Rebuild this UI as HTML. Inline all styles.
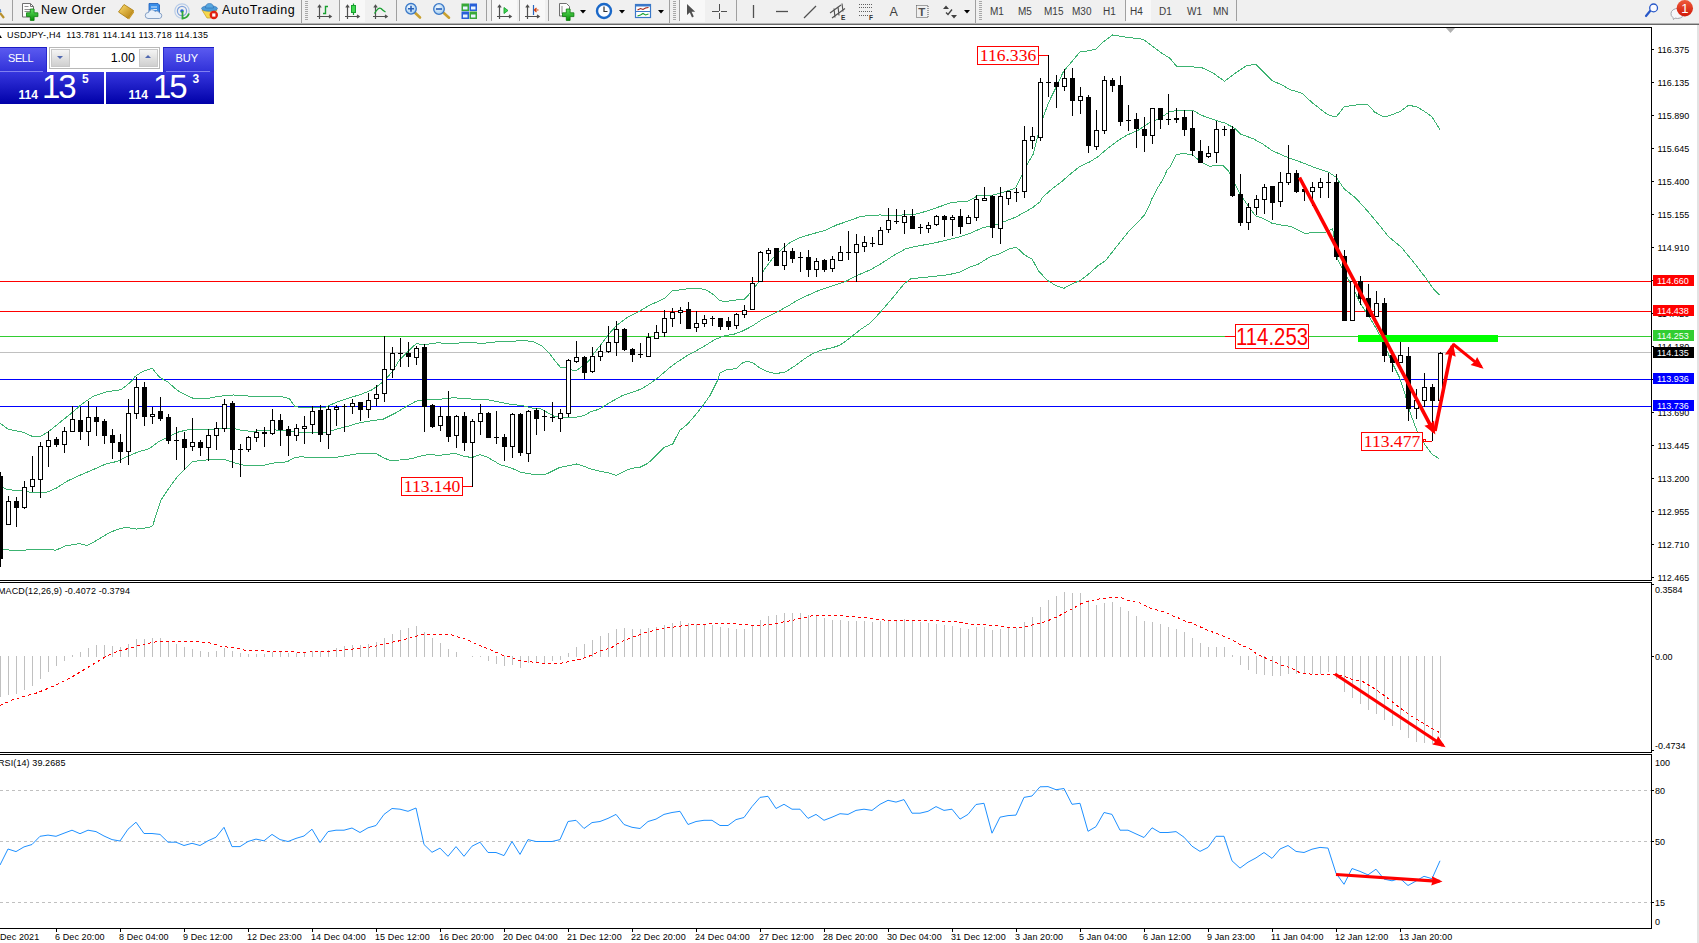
<!DOCTYPE html>
<html><head><meta charset="utf-8"><title>USDJPY H4</title>
<style>
html,body{margin:0;padding:0;background:#fff;}
body{width:1699px;height:943px;overflow:hidden;position:relative;font-family:"Liberation Sans",sans-serif;}
#tb{position:absolute;left:0;top:0;width:1699px;height:23px;background:#f0f0f0;}
#tbl1{position:absolute;left:0;top:23px;width:1699px;height:1px;background:#b4b4b4;}
#tbl2{position:absolute;left:0;top:24px;width:1699px;height:1px;background:#696969;}
#rstrip{position:absolute;left:1697px;top:25px;width:2px;height:918px;background:#e3e3e3;}
.sep{position:absolute;top:0;width:1px;height:21px;background:#a0a0a0;}
.tf{position:absolute;top:5.5px;font-size:10px;color:#3c3c3c;line-height:11px;white-space:nowrap;}
.tbt{position:absolute;top:2px;font-size:12.5px;color:#000;line-height:16px;letter-spacing:.5px;white-space:nowrap;}
.hl{position:absolute;top:0;height:22px;background:#f8f8f8;}
.ax{position:absolute;left:1657.5px;font-size:9px;line-height:11px;color:#000;white-space:nowrap;}
.axb{position:absolute;left:1653px;width:41px;height:11px;font-size:9px;line-height:12px;color:#fff;white-space:nowrap;text-indent:4px;}
.tk{position:absolute;left:1652px;width:2px;height:1px;background:#000;}
.tl{position:absolute;top:932px;font-size:9px;line-height:11px;letter-spacing:.1px;color:#000;white-space:nowrap;}
.tt{position:absolute;top:928px;width:1px;height:4px;background:#000;}
.lbl{position:absolute;border:1px solid #f00;color:#f00;font-family:"Liberation Serif",serif;font-size:17.6px;line-height:17px;text-align:center;box-sizing:border-box;white-space:nowrap;background:#fff;}
</style></head><body>
<!-- toolbar -->
<div id="tb"></div><div id="tbl1"></div><div id="tbl2"></div><div id="rstrip"></div>
<div class="hl" style="left:340px;width:25px;"></div>
<div class="hl" style="left:492px;width:25px;"></div>
<div class="hl" style="left:520px;width:25px;"></div>
<div class="hl" style="left:680px;width:25px;"></div>
<div class="hl" style="left:1126px;width:25px;"></div>
<div class="sep" style="left:12px"></div>
<div class="sep" style="left:301px;height:23px"></div>
<div class="sep" style="left:339px"></div>
<div class="sep" style="left:396px"></div>
<div class="sep" style="left:486px"></div>
<div class="sep" style="left:491px"></div>
<div class="sep" style="left:519px"></div>
<div class="sep" style="left:548px"></div>
<div class="sep" style="left:669px;height:23px"></div>
<div class="sep" style="left:679px"></div>
<div class="sep" style="left:736px"></div>
<div class="sep" style="left:975px;height:23px"></div>
<div class="sep" style="left:1125px"></div>
<div class="sep" style="left:1236px"></div>
<div class="tbt" style="left:41px;">New Order</div>
<div class="tbt" style="left:222px;">AutoTrading</div>
<div class="tf" style="left:990px">M1</div>
<div class="tf" style="left:1018px">M5</div>
<div class="tf" style="left:1044px">M15</div>
<div class="tf" style="left:1072px">M30</div>
<div class="tf" style="left:1103px">H1</div>
<div class="tf" style="left:1130px">H4</div>
<div class="tf" style="left:1159px">D1</div>
<div class="tf" style="left:1187px">W1</div>
<div class="tf" style="left:1213px">MN</div>
<svg width="1699" height="23" viewBox="0 0 1699 23" style="position:absolute;left:0;top:0">
<defs>
<linearGradient id="gold" x1="0" y1="0" x2="1" y2="1"><stop offset="0" stop-color="#ffe070"/><stop offset="1" stop-color="#b07808"/></linearGradient>
<linearGradient id="grn" x1="0" y1="0" x2="0" y2="1"><stop offset="0" stop-color="#60e060"/><stop offset="1" stop-color="#089008"/></linearGradient>
<radialGradient id="lens" cx=".4" cy=".35" r=".7"><stop offset="0" stop-color="#f4fbff"/><stop offset="1" stop-color="#9cc8ee"/></radialGradient>
<linearGradient id="red" x1="0" y1="0" x2="0" y2="1"><stop offset="0" stop-color="#ee5a3a"/><stop offset="1" stop-color="#d01808"/></linearGradient>
</defs>
<!-- left partial magnifier handle -->
<path d="M0 13 L4 18" stroke="#b8902c" stroke-width="2.2"/><path d="M0 9 A4 4 0 0 0 1 12" stroke="#5a88c8" stroke-width="1.5" fill="none"/>
<!-- new order -->
<path d="M22.5 3.5 h8 l3 3 v10.5 h-11z" fill="#fdfdfd" stroke="#707070"/><path d="M30.5 3.5 v3 h3" fill="none" stroke="#707070"/><path d="M24.5 6.5h4M24.5 9.5h6M24.5 11.5h6" stroke="#909090"/>
<path d="M30.3 9 h3.8 v3.8 h3.8 v3.8 h-3.8 v3.8 h-3.8 v-3.8 h-3.8 v-3.8 h3.8z" fill="url(#grn)" stroke="#0a7a0a" stroke-width=".8"/>
<!-- yellow book -->
<path d="M118.5 12 L124 4.5 L133.5 10.5 L128 18.5 Z" fill="url(#gold)" stroke="#a87808" stroke-width=".8"/><path d="M128 18.5 L133.5 10.5 L134 12.5 L129 19.5z" fill="#c89828"/>
<!-- server cloud -->
<path d="M149 3.5 h9 l1.5 1.5 v9 h-10.5z" fill="#3a8ee8" stroke="#1c5cb8" stroke-width=".8"/><path d="M151 7h6M151 9.5h6" stroke="#d8ecff"/>
<path d="M148 18.5 a3 3 0 0 1 0.5 -6 a3.5 3.5 0 0 1 6.5 -1 a3 3 0 0 1 4.5 1.5 a2.8 2.8 0 0 1 0 5.5z" fill="#e8f0fa" stroke="#7c98c0" stroke-width=".9"/>
<!-- signal -->
<circle cx="182" cy="11" r="7.2" fill="none" stroke="#b8cce8" stroke-width="1.2"/><circle cx="182" cy="11" r="4.6" fill="none" stroke="#7ca0dc" stroke-width="1.2"/><circle cx="182" cy="11" r="1.8" fill="#2868d0"/>
<path d="M182.5 11 v7.5 a7.5 7.5 0 0 0 6.5 -5" fill="none" stroke="#30a838" stroke-width="1.8"/>
<!-- hat autotrading -->
<path d="M202 10 q7 -2 15 0 l-6 8 h-4z" fill="#f6d84c" stroke="#c89c18" stroke-width=".7"/>
<ellipse cx="209.5" cy="8.5" rx="8" ry="2.8" fill="#4c9cd8" stroke="#2c6cb0" stroke-width=".6"/><path d="M205.5 8 q0 -4.5 4 -4.5 q4 0 4 4.5z" fill="#58a8e0" stroke="#2c6cb0" stroke-width=".6"/>
<circle cx="213.8" cy="15" r="4.2" fill="#e02010"/><rect x="212.2" y="13.4" width="3.2" height="3.2" fill="#fff"/>
<!-- grips -->
<g stroke="#a8a8a8" stroke-width="1"><path d="M305 1.500h3M305 3.500h3M305 5.500h3M305 7.500h3M305 9.500h3M305 11.500h3M305 13.500h3M305 15.500h3M305 17.500h3M305 19.500h3"/><path d="M673 1.500h3M673 3.500h3M673 5.500h3M673 7.500h3M673 9.500h3M673 11.500h3M673 13.500h3M673 15.500h3M673 17.500h3M673 19.500h3"/><path d="M979 1.500h3M979 3.500h3M979 5.500h3M979 7.500h3M979 9.500h3M979 11.500h3M979 13.500h3M979 15.500h3M979 17.500h3M979 19.500h3"/></g>
<!-- chart type icons -->
<g fill="none" stroke="#505050" stroke-width="1.2">
<path d="M319.500 5.500v13.500M317 16.500h14M317.800 7.500l1.700 -2.200 1.700 2.200M329 15l2.200 1.500 -2.200 1.500"/>
<path d="M347.500 5.500v13.500M345 16.500h14M345.800 7.500l1.700 -2.200 1.700 2.200M357 15l2.200 1.500 -2.200 1.500"/>
<path d="M375.500 5.500v13.500M373 16.500h14M373.800 7.500l1.700 -2.200 1.700 2.200M385 15l2.200 1.500 -2.200 1.500"/>
<path d="M499.500 5.500v13.500M497 16.500h14M497.800 7.500l1.700 -2.200 1.700 2.200M509 15l2.200 1.500 -2.200 1.500"/>
<path d="M527.500 5.500v13.500M525 16.500h14M525.800 7.500l1.700 -2.200 1.700 2.200M537 15l2.200 1.500 -2.200 1.500"/>
</g>
<path d="M323 13.500h2.500v-7h2.500" fill="none" stroke="#18a030" stroke-width="1.4"/>
<path d="M353.500 3.500v11.500" stroke="#18a030" stroke-width="1.2"/><rect x="351.500" y="5.500" width="4" height="7" fill="#40d850" stroke="#18a030"/>
<path d="M374.500 13.500q4 -7 6.500 -5q2.500 2.500 4.500 3.500" fill="none" stroke="#18a030" stroke-width="1.3"/>
<path d="M504 7.500l4 3 -4 3z" fill="#40d850" stroke="#18a030" stroke-width=".9"/>
<path d="M533.500 5v10" stroke="#2868c0" stroke-width="1.2"/><path d="M538.500 10h-4M536.500 8l-2.200 2 2.200 2" fill="none" stroke="#d04010" stroke-width="1.1"/>
<!-- zoom in/out -->
<path d="M415 12.800l5 4.700" stroke="#c8a030" stroke-width="2.600" stroke-linecap="round"/><circle cx="411" cy="8.800" r="5.300" fill="url(#lens)" stroke="#3a78c8" stroke-width="1.300"/><path d="M408 8.800h6M411 5.800v6" stroke="#2860b8" stroke-width="1.600"/>
<path d="M443.500 12.800l5.500 4.900" stroke="#c8a030" stroke-width="2.600" stroke-linecap="round"/><circle cx="439" cy="9" r="5.300" fill="url(#lens)" stroke="#3a78c8" stroke-width="1.300"/><path d="M436 9h6" stroke="#2860b8" stroke-width="1.600"/>
<!-- tile -->
<rect x="461.500" y="3.500" width="7.500" height="7.500" fill="#38a838"/><rect x="469.500" y="3.500" width="7.500" height="7.500" fill="#2860d8"/><rect x="461.500" y="11.500" width="7.500" height="7.500" fill="#2860d8"/><rect x="469.500" y="11.500" width="7.500" height="7.500" fill="#38a838"/>
<g fill="#e8f4ff"><rect x="463" y="6.500" width="4.500" height="3"/><rect x="471" y="6.500" width="4.500" height="3"/><rect x="463" y="14.500" width="4.500" height="3"/><rect x="471" y="14.500" width="4.500" height="3"/></g>
<!-- indicators -->
<path d="M559.500 3.500h7l3 3v9.500h-10z" fill="#fdfdfd" stroke="#707070"/><path d="M562 6v8" stroke="#909090"/>
<path d="M566.300 9h3.800v3.800h3.800v3.800h-3.800v3.800h-3.800v-3.800h-3.800v-3.800h3.800z" fill="url(#grn)" stroke="#0a7a0a" stroke-width=".8"/>
<path d="M580 10h6l-3 3.500z" fill="#000"/>
<!-- clock -->
<circle cx="604" cy="11" r="7" fill="#fafcff" stroke="#1a68c8" stroke-width="2.400"/><path d="M604 6.500v5h3.500" fill="none" stroke="#303030" stroke-width="1.200"/>
<path d="M619 10h6l-3 3.500z" fill="#000"/>
<!-- templates -->
<rect x="635.500" y="4.500" width="15" height="13" fill="#fff" stroke="#3a78c8" stroke-width="1.200"/><rect x="635.500" y="4.500" width="15" height="2" fill="#3a78c8"/><path d="M636 11.500h14" stroke="#3a78c8"/>
<path d="M637.500 10l3 -1.500 2.500 1 2.500 -1.500 3 -.5" fill="none" stroke="#a02010" stroke-width="1.100"/><path d="M637.500 16l3 -1 2.500 -1.500 2.500 1.500 3 -1" fill="none" stroke="#18a030" stroke-width="1.100"/>
<path d="M658 10h6l-3 3.500z" fill="#000"/>
<!-- cursor -->
<path d="M687 4v11l2.800 -2.600 2.200 5 1.800 -.8 -2.200 -4.800h3.600z" fill="#505050"/>
<path d="M712 11.500h6.500M720.500 11.500h6.500M719.500 4v6.500M719.500 12.500v6.500" stroke="#505050" stroke-width="1" shape-rendering="crispEdges"/>
<!-- line tools -->
<path d="M753.500 5v13" stroke="#505050" stroke-width="1.300"/><path d="M776 11.500h12" stroke="#505050" stroke-width="1.300"/><path d="M804 18l12 -12" stroke="#505050" stroke-width="1.300"/>
<path d="M830 13l11 -8M832 18l13 -9.500M834 8.500l1 9M838 6.500l1 9M842 3.500l1 8" stroke="#505050" stroke-width="1.100" fill="none"/>
<text x="841" y="20" font-family="Liberation Sans" font-size="6.500" font-weight="bold" fill="#303030">E</text>
<g stroke="#606060" stroke-width="1" stroke-dasharray="1,1"><path d="M859 4.500h14M859 7.500h14M859 11.500h14M859 15.500h10"/></g>
<text x="869" y="20" font-family="Liberation Sans" font-size="6.500" font-weight="bold" fill="#303030">F</text>
<text x="889.500" y="16" font-family="Liberation Sans" font-size="12.500" fill="#404040">A</text>
<rect x="916.500" y="5.500" width="11.500" height="12" fill="none" stroke="#505050" stroke-dasharray="1,1"/><text x="918.300" y="16" font-family="Liberation Sans" font-size="11.500" font-weight="bold" fill="#505050">T</text>
<path d="M943 9l3 -3.500 3 3.500zM951 15l3 3.500 3 -3.500z" fill="#404040"/><path d="M946 12.500l2 2 4 -5" fill="none" stroke="#404040" stroke-width="1.300"/>
<path d="M964 10h6l-3 3.500z" fill="#000"/>
<!-- right icons -->
<path d="M1650.500 10.500l-4.500 5.500" stroke="#2858c8" stroke-width="2.200" stroke-linecap="round"/><circle cx="1653.600" cy="7.900" r="3.900" fill="#fbfbff" stroke="#2858c8" stroke-width="1.300"/>
<path d="M1671 13.500a6.500 5 0 1 1 4 4.600l-1.500 1.500 -.5 -2a6.500 5 0 0 1 -2 -4.100z" fill="#f6f6fa" stroke="#a4a4ac" stroke-width="1"/>
<circle cx="1684.800" cy="8.300" r="8.200" fill="url(#red)"/><text x="1681.300" y="13" font-family="Liberation Sans" font-size="13" fill="#fff">1</text>
</svg>

<!-- chart svg -->
<svg id="ch" width="1699" height="943" viewBox="0 0 1699 943" style="position:absolute;left:0;top:0" shape-rendering="crispEdges">
<rect x="0" y="27" width="1652" height="1" fill="#000"/>
<rect x="1651" y="27" width="1" height="554" fill="#000"/>
<rect x="1651" y="582" width="1" height="171" fill="#000"/>
<rect x="1651" y="754" width="1" height="175" fill="#000"/>
<rect x="0" y="580" width="1652" height="1" fill="#000"/>
<rect x="0" y="582" width="1652" height="1" fill="#000"/>
<rect x="0" y="752" width="1652" height="1" fill="#000"/>
<rect x="0" y="754" width="1652" height="1" fill="#000"/>
<rect x="0" y="928" width="1652" height="1" fill="#000"/>
<polygon points="1446,28 1455,28 1450.5,33" fill="#b0b0b0" shape-rendering="geometricPrecision"/>
<rect x="0" y="281" width="1651" height="1" fill="#ff0000"/>
<rect x="0" y="311" width="1651" height="1" fill="#ff0000"/>
<rect x="0" y="336" width="1651" height="1" fill="#32cd32"/>
<rect x="0" y="352" width="1651" height="1" fill="#c0c0c0"/>
<rect x="0" y="379" width="1651" height="1" fill="#0000ff"/>
<rect x="0" y="406" width="1651" height="1" fill="#0000ff"/>
<polyline points="0.0,423.0 8.2,429.3 23.3,432.3 32.7,436.5 39.7,437.0 49.0,431.2 60.7,421.8 72.3,412.5 81.6,404.3 93.3,396.2 105.0,392.2 121.3,389.6 130.6,382.2 135.3,376.3 142.3,371.7 152.1,368.2 159.8,377.5 168.0,382.2 177.3,390.3 186.6,395.5 192.5,398.0 210.0,398.0 219.3,396.2 233.3,395.0 244.9,395.7 256.6,396.9 268.3,396.6 279.9,396.2 289.3,398.5 294.7,406.3 300.0,407.4 301.7,407.9 313.3,407.9 325.0,407.5 336.7,402.1 348.3,398.1 360.0,394.7 371.6,390.0 378.6,385.3 385.6,379.5 392.6,371.3 399.6,359.7 406.6,352.7 416.0,343.8 425.3,344.5 437.0,342.9 453.3,343.3 467.3,342.6 483.6,343.3 500.0,341.5 511.6,341.5 523.3,340.3 534.9,342.2 541.9,346.1 548.9,352.7 555.9,362.0 560.6,367.4 565.3,367.8 572.3,370.2 575.8,370.9 581.6,366.7 587.0,362.6 590.0,359.7 594.0,353.3 603.3,341.6 610.3,332.3 617.3,324.8 626.7,317.8 638.3,311.8 650.0,305.0 659.3,300.8 665.1,297.8 672.1,290.8 680.3,289.8 689.6,288.4 699.0,288.4 707.1,290.3 713.0,294.3 720.0,300.8 725.8,301.5 735.1,300.1 744.5,299.2 751.5,291.5 758.5,282.1 764.3,269.3 771.3,260.0 780.6,250.2 790.0,242.5 799.3,237.8 810.9,234.3 824.9,230.4 836.6,225.0 848.3,221.0 859.9,216.8 869.3,215.2 880.0,215.0 893.3,215.3 914.3,214.6 928.3,210.7 940.0,206.5 951.6,202.5 968.0,201.1 977.3,196.0 991.3,195.5 1000.6,193.2 1010.0,190.1 1015.8,187.8 1021.6,176.1 1026.3,165.6 1033.3,154.0 1038.0,135.3 1042.6,119.0 1048.5,102.7 1056.6,86.3 1063.6,71.2 1070.6,63.0 1080.0,52.0 1089.3,50.6 1096.3,49.0 1103.3,42.0 1112.6,35.0 1126.6,37.3 1142.9,39.2 1154.6,47.8 1160.0,52.0 1168.2,57.2 1170.0,58.3 1176.3,66.0 1188.0,66.5 1202.0,67.7 1213.7,73.5 1224.6,81.2 1234.7,73.5 1246.3,65.8 1255.6,64.2 1262.6,71.2 1272.0,80.5 1281.3,84.7 1290.6,89.8 1302.3,93.3 1311.6,102.2 1321.0,109.6 1328.0,114.8 1336.1,117.1 1344.3,106.6 1356.0,105.0 1367.6,104.3 1374.6,112.0 1384.0,117.1 1393.3,114.3 1400.3,111.3 1408.4,105.4 1416.6,106.6 1423.6,110.8 1431.8,116.6 1439.9,129.5" fill="none" stroke="#3cb371" stroke-width="1"/>
<polyline points="0.0,486.0 7.0,489.5 18.7,490.6 32.7,492.5 46.7,492.3 56.0,488.3 67.7,480.8 79.3,475.5 93.3,469.6 105.0,464.3 116.6,461.5 128.3,456.1 137.6,452.1 149.3,448.6 158.6,441.6 168.0,437.0 177.3,432.3 186.6,430.0 198.3,429.5 210.0,429.3 221.6,428.4 233.3,428.4 242.6,430.7 251.9,431.2 263.6,430.7 275.3,430.0 286.9,430.7 300.0,432.3 304.0,432.4 313.3,432.7 327.3,432.0 336.7,429.2 348.3,426.1 360.0,422.6 371.6,420.8 383.3,419.1 395.0,413.3 406.6,406.3 416.0,401.2 425.3,399.3 439.3,399.3 453.3,397.7 467.3,398.8 476.6,399.3 488.3,399.8 500.0,402.3 511.6,404.4 523.3,405.8 534.9,408.6 541.9,409.1 546.6,412.1 553.6,416.1 560.6,417.5 569.9,417.5 579.3,416.8 586.3,414.5 590.0,412.1 598.7,409.3 610.3,402.3 622.0,395.8 633.7,391.8 641.8,388.8 650.0,383.6 659.3,376.6 668.6,368.5 678.0,361.5 687.3,355.6 696.6,350.5 706.0,345.1 715.3,339.3 724.6,335.8 734.0,334.2 743.3,330.7 752.6,325.8 762.0,319.5 771.3,314.8 780.6,310.1 790.0,304.8 799.3,299.2 808.6,295.0 817.9,290.8 827.3,287.5 836.6,284.5 845.9,281.4 855.3,276.3 860.0,274.2 870.6,269.7 881.2,263.6 893.5,255.6 905.9,248.6 918.3,245.9 930.6,243.8 943.0,241.0 957.1,237.6 969.5,233.5 983.6,227.4 992.4,226.1 1003.0,222.1 1015.4,217.3 1024.2,212.4 1032.2,207.9 1040.1,201.8 1042.6,197.1 1052.0,189.0 1061.3,182.0 1070.6,173.8 1080.0,166.3 1089.3,162.1 1098.6,156.3 1107.9,148.1 1117.3,141.1 1126.6,135.3 1138.3,130.2 1149.9,122.5 1159.3,118.5 1169.3,112.0 1178.7,110.1 1192.7,110.3 1202.0,115.5 1213.7,119.7 1225.3,123.2 1234.7,128.3 1240.5,134.1 1253.3,138.8 1262.6,143.9 1272.0,150.5 1281.3,154.7 1290.6,158.6 1302.3,162.6 1314.0,167.3 1328.0,171.9 1336.1,177.3 1344.3,189.0 1356.0,198.3 1367.6,211.1 1379.3,225.1 1388.6,236.8 1392.6,240.0 1401.4,247.3 1413.6,262.2 1425.3,277.3 1433.5,289.0 1439.3,294.8" fill="none" stroke="#3cb371" stroke-width="1"/>
<polyline points="0.0,548.5 9.3,550.1 23.3,550.1 42.0,549.4 56.0,550.1 65.3,545.9 79.3,543.6 87.5,545.5 98.0,539.6 107.3,533.8 116.6,529.6 126.0,527.3 136.5,529.1 149.3,527.5 152.8,525.6 156.3,514.0 161.0,500.0 168.0,489.5 177.3,476.6 186.6,467.3 192.5,461.5 203.0,460.3 217.0,459.1 225.1,459.6 233.3,462.6 244.9,465.4 263.6,465.4 275.3,462.6 286.9,461.9 293.9,458.0 299.3,456.9 313.3,457.2 336.7,457.2 348.3,455.3 360.0,453.4 376.3,453.7 383.3,457.6 390.3,460.7 399.6,460.0 411.3,458.8 423.0,455.3 430.0,454.6 439.3,455.3 455.6,453.4 462.6,456.0 472.0,457.6 480.1,454.6 488.3,457.6 500.0,464.6 511.6,468.1 520.9,472.3 534.9,474.7 546.6,474.0 558.3,468.1 560.0,467.5 567.6,465.9 576.5,464.0 582.9,465.9 591.8,469.4 599.4,471.0 608.3,472.9 616.0,475.4 623.6,471.6 631.2,468.4 640.2,467.2 647.8,463.3 654.1,457.6 664.3,447.2 672.6,444.2 679.6,430.6 687.2,424.5 694.9,415.6 702.5,406.1 710.1,395.3 717.8,380.0 720.0,373.1 725.8,370.1 736.3,368.5 743.3,362.2 748.0,361.5 752.6,362.6 759.6,367.8 766.6,371.5 776.0,373.6 785.3,372.0 794.6,366.1 804.0,359.1 813.3,353.3 822.6,349.8 831.9,347.9 840.1,345.1 848.3,339.3 859.9,330.0 870.6,322.7 881.2,311.2 891.8,298.9 904.1,283.9 911.2,278.6 930.6,276.8 948.3,274.7 958.9,272.4 969.5,267.1 978.3,264.1 990.7,256.5 999.5,253.9 1010.1,248.6 1016.3,247.1 1024.2,254.7 1032.2,259.2 1038.3,270.6 1047.2,280.3 1056.0,285.6 1063.9,288.3 1071.9,283.9 1080.7,280.3 1089.5,273.3 1098.4,265.3 1105.4,260.9 1114.3,249.4 1121.3,240.6 1128.4,231.8 1137.2,223.0 1144.3,215.0 1149.6,205.3 1151.3,200.0 1156.9,189.0 1160.0,184.3 1163.9,177.3 1167.0,170.3 1170.0,166.8 1176.3,154.7 1183.3,153.3 1192.7,155.1 1199.7,161.0 1209.0,166.1 1223.0,165.6 1228.8,171.5 1234.7,183.1 1240.5,194.8 1248.6,206.5 1255.6,215.8 1262.6,218.1 1272.0,223.3 1281.3,225.1 1290.6,226.3 1297.6,229.8 1304.6,233.3 1314.0,232.6 1325.6,232.1 1332.6,228.6 1337.8,259.8 1346.0,275.0 1354.2,290.2 1360.0,303.0 1369.3,317.0 1376.3,328.6 1383.3,342.6 1392.6,363.6 1399.6,377.6 1404.3,391.6 1410.1,412.6 1417.1,431.3 1425.3,445.3 1432.3,454.6 1439.3,458.6" fill="none" stroke="#3cb371" stroke-width="1"/>
<g fill="#000"><rect x="0" y="472" width="1" height="95"/><rect x="-2" y="476" width="5" height="83"/><rect x="8" y="496" width="1" height="28"/><rect x="6" y="501" width="5" height="24"/><rect x="7" y="502" width="3" height="22" fill="#fff"/><rect x="16" y="497" width="1" height="30"/><rect x="14" y="501" width="5" height="7"/><rect x="24" y="481" width="1" height="28"/><rect x="22" y="487" width="5" height="21"/><rect x="23" y="488" width="3" height="19" fill="#fff"/><rect x="32" y="456" width="1" height="36"/><rect x="30" y="479" width="5" height="8"/><rect x="31" y="480" width="3" height="6" fill="#fff"/><rect x="40" y="442" width="1" height="56"/><rect x="38" y="446" width="5" height="34"/><rect x="39" y="447" width="3" height="32" fill="#fff"/><rect x="48" y="431" width="1" height="36"/><rect x="46" y="440" width="5" height="7"/><rect x="47" y="441" width="3" height="5" fill="#fff"/><rect x="56" y="437" width="1" height="10"/><rect x="54" y="439" width="5" height="6"/><rect x="64" y="427" width="1" height="26"/><rect x="62" y="431" width="5" height="14"/><rect x="63" y="432" width="3" height="12" fill="#fff"/><rect x="72" y="406" width="1" height="25"/><rect x="70" y="419" width="5" height="13"/><rect x="71" y="420" width="3" height="11" fill="#fff"/><rect x="80" y="407" width="1" height="33"/><rect x="78" y="420" width="5" height="12"/><rect x="88" y="401" width="1" height="45"/><rect x="86" y="417" width="5" height="15"/><rect x="87" y="418" width="3" height="13" fill="#fff"/><rect x="96" y="407" width="1" height="29"/><rect x="94" y="417" width="5" height="5"/><rect x="104" y="419" width="1" height="25"/><rect x="102" y="421" width="5" height="15"/><rect x="112" y="429" width="1" height="30"/><rect x="110" y="435" width="5" height="8"/><rect x="120" y="434" width="1" height="29"/><rect x="118" y="442" width="5" height="10"/><rect x="128" y="399" width="1" height="66"/><rect x="126" y="413" width="5" height="39"/><rect x="127" y="414" width="3" height="37" fill="#fff"/><rect x="136" y="377" width="1" height="42"/><rect x="134" y="387" width="5" height="27"/><rect x="135" y="388" width="3" height="25" fill="#fff"/><rect x="144" y="382" width="1" height="44"/><rect x="142" y="387" width="5" height="30"/><rect x="152" y="407" width="1" height="17"/><rect x="150" y="414" width="5" height="3"/><rect x="151" y="415" width="3" height="1" fill="#fff"/><rect x="160" y="397" width="1" height="24"/><rect x="158" y="411" width="5" height="8"/><rect x="168" y="414" width="1" height="30"/><rect x="166" y="417" width="5" height="24"/><rect x="176" y="427" width="1" height="33"/><rect x="174" y="440" width="5" height="1"/><rect x="184" y="432" width="1" height="38"/><rect x="182" y="439" width="5" height="9"/><rect x="192" y="418" width="1" height="33"/><rect x="190" y="442" width="5" height="5"/><rect x="191" y="443" width="3" height="3" fill="#fff"/><rect x="200" y="440" width="1" height="16"/><rect x="198" y="442" width="5" height="6"/><rect x="208" y="429" width="1" height="32"/><rect x="206" y="435" width="5" height="13"/><rect x="207" y="436" width="3" height="11" fill="#fff"/><rect x="216" y="422" width="1" height="28"/><rect x="214" y="428" width="5" height="8"/><rect x="215" y="429" width="3" height="6" fill="#fff"/><rect x="224" y="399" width="1" height="33"/><rect x="222" y="404" width="5" height="25"/><rect x="223" y="405" width="3" height="23" fill="#fff"/><rect x="232" y="401" width="1" height="67"/><rect x="230" y="403" width="5" height="47"/><rect x="240" y="444" width="1" height="33"/><rect x="238" y="449" width="5" height="1"/><rect x="248" y="436" width="1" height="16"/><rect x="246" y="437" width="5" height="13"/><rect x="247" y="438" width="3" height="11" fill="#fff"/><rect x="256" y="429" width="1" height="13"/><rect x="254" y="432" width="5" height="6"/><rect x="255" y="433" width="3" height="4" fill="#fff"/><rect x="264" y="427" width="1" height="20"/><rect x="262" y="432" width="5" height="2"/><rect x="272" y="409" width="1" height="26"/><rect x="270" y="420" width="5" height="14"/><rect x="271" y="421" width="3" height="12" fill="#fff"/><rect x="280" y="414" width="1" height="32"/><rect x="278" y="420" width="5" height="10"/><rect x="288" y="426" width="1" height="30"/><rect x="286" y="429" width="5" height="7"/><rect x="296" y="424" width="1" height="17"/><rect x="294" y="428" width="5" height="8"/><rect x="295" y="429" width="3" height="6" fill="#fff"/><rect x="304" y="416" width="1" height="28"/><rect x="302" y="426" width="5" height="3"/><rect x="303" y="427" width="3" height="1" fill="#fff"/><rect x="312" y="406" width="1" height="28"/><rect x="310" y="411" width="5" height="14"/><rect x="311" y="412" width="3" height="12" fill="#fff"/><rect x="320" y="405" width="1" height="37"/><rect x="318" y="410" width="5" height="25"/><rect x="328" y="406" width="1" height="43"/><rect x="326" y="409" width="5" height="26"/><rect x="327" y="410" width="3" height="24" fill="#fff"/><rect x="336" y="405" width="1" height="21"/><rect x="334" y="407" width="5" height="3"/><rect x="335" y="408" width="3" height="1" fill="#fff"/><rect x="344" y="404" width="1" height="28"/><rect x="342" y="406" width="5" height="1"/><rect x="352" y="399" width="1" height="15"/><rect x="350" y="403" width="5" height="4"/><rect x="351" y="404" width="3" height="2" fill="#fff"/><rect x="360" y="402" width="1" height="19"/><rect x="358" y="402" width="5" height="8"/><rect x="368" y="393" width="1" height="25"/><rect x="366" y="400" width="5" height="10"/><rect x="367" y="401" width="3" height="8" fill="#fff"/><rect x="376" y="385" width="1" height="21"/><rect x="374" y="394" width="5" height="5"/><rect x="375" y="395" width="3" height="3" fill="#fff"/><rect x="384" y="336" width="1" height="66"/><rect x="382" y="369" width="5" height="25"/><rect x="383" y="370" width="3" height="23" fill="#fff"/><rect x="392" y="347" width="1" height="31"/><rect x="390" y="353" width="5" height="17"/><rect x="391" y="354" width="3" height="15" fill="#fff"/><rect x="400" y="338" width="1" height="29"/><rect x="398" y="353" width="5" height="1"/><rect x="408" y="342" width="1" height="25"/><rect x="406" y="353" width="5" height="4"/><rect x="416" y="346" width="1" height="19"/><rect x="414" y="348" width="5" height="10"/><rect x="415" y="349" width="3" height="8" fill="#fff"/><rect x="424" y="344" width="1" height="88"/><rect x="422" y="347" width="5" height="60"/><rect x="432" y="404" width="1" height="24"/><rect x="430" y="405" width="5" height="22"/><rect x="440" y="407" width="1" height="24"/><rect x="438" y="416" width="5" height="10"/><rect x="439" y="417" width="3" height="8" fill="#fff"/><rect x="448" y="391" width="1" height="51"/><rect x="446" y="416" width="5" height="21"/><rect x="456" y="415" width="1" height="33"/><rect x="454" y="416" width="5" height="20"/><rect x="455" y="417" width="3" height="18" fill="#fff"/><rect x="464" y="412" width="1" height="39"/><rect x="462" y="416" width="5" height="27"/><rect x="472" y="419" width="1" height="68"/><rect x="470" y="421" width="5" height="22"/><rect x="471" y="422" width="3" height="20" fill="#fff"/><rect x="480" y="404" width="1" height="31"/><rect x="478" y="413" width="5" height="9"/><rect x="479" y="414" width="3" height="7" fill="#fff"/><rect x="488" y="412" width="1" height="25"/><rect x="486" y="413" width="5" height="25"/><rect x="496" y="411" width="1" height="33"/><rect x="494" y="437" width="5" height="1"/><rect x="504" y="434" width="1" height="27"/><rect x="502" y="437" width="5" height="10"/><rect x="512" y="413" width="1" height="45"/><rect x="510" y="414" width="5" height="33"/><rect x="511" y="415" width="3" height="31" fill="#fff"/><rect x="520" y="413" width="1" height="43"/><rect x="518" y="414" width="5" height="39"/><rect x="528" y="410" width="1" height="52"/><rect x="526" y="411" width="5" height="43"/><rect x="527" y="412" width="3" height="41" fill="#fff"/><rect x="536" y="408" width="1" height="27"/><rect x="534" y="410" width="5" height="9"/><rect x="544" y="410" width="1" height="21"/><rect x="542" y="416" width="5" height="1"/><rect x="552" y="402" width="1" height="20"/><rect x="550" y="417" width="5" height="1"/><rect x="560" y="409" width="1" height="23"/><rect x="558" y="413" width="5" height="6"/><rect x="559" y="414" width="3" height="4" fill="#fff"/><rect x="568" y="359" width="1" height="58"/><rect x="566" y="360" width="5" height="54"/><rect x="567" y="361" width="3" height="52" fill="#fff"/><rect x="576" y="341" width="1" height="22"/><rect x="574" y="357" width="5" height="5"/><rect x="575" y="358" width="3" height="3" fill="#fff"/><rect x="584" y="356" width="1" height="23"/><rect x="582" y="357" width="5" height="16"/><rect x="592" y="347" width="1" height="26"/><rect x="590" y="356" width="5" height="16"/><rect x="591" y="357" width="3" height="14" fill="#fff"/><rect x="600" y="345" width="1" height="16"/><rect x="598" y="351" width="5" height="6"/><rect x="599" y="352" width="3" height="4" fill="#fff"/><rect x="608" y="326" width="1" height="27"/><rect x="606" y="342" width="5" height="10"/><rect x="607" y="343" width="3" height="8" fill="#fff"/><rect x="616" y="321" width="1" height="35"/><rect x="614" y="329" width="5" height="14"/><rect x="615" y="330" width="3" height="12" fill="#fff"/><rect x="624" y="328" width="1" height="23"/><rect x="622" y="329" width="5" height="21"/><rect x="632" y="348" width="1" height="14"/><rect x="630" y="349" width="5" height="6"/><rect x="640" y="343" width="1" height="15"/><rect x="638" y="354" width="5" height="1"/><rect x="648" y="333" width="1" height="24"/><rect x="646" y="337" width="5" height="20"/><rect x="647" y="338" width="3" height="18" fill="#fff"/><rect x="656" y="325" width="1" height="14"/><rect x="654" y="332" width="5" height="7"/><rect x="655" y="333" width="3" height="5" fill="#fff"/><rect x="664" y="310" width="1" height="27"/><rect x="662" y="318" width="5" height="15"/><rect x="663" y="319" width="3" height="13" fill="#fff"/><rect x="672" y="308" width="1" height="19"/><rect x="670" y="312" width="5" height="7"/><rect x="671" y="313" width="3" height="5" fill="#fff"/><rect x="680" y="307" width="1" height="17"/><rect x="678" y="310" width="5" height="3"/><rect x="679" y="311" width="3" height="1" fill="#fff"/><rect x="688" y="302" width="1" height="27"/><rect x="686" y="309" width="5" height="20"/><rect x="696" y="311" width="1" height="21"/><rect x="694" y="323" width="5" height="5"/><rect x="695" y="324" width="3" height="3" fill="#fff"/><rect x="704" y="315" width="1" height="12"/><rect x="702" y="319" width="5" height="5"/><rect x="703" y="320" width="3" height="3" fill="#fff"/><rect x="712" y="316" width="1" height="10"/><rect x="710" y="318" width="5" height="1"/><rect x="720" y="318" width="1" height="12"/><rect x="718" y="318" width="5" height="9"/><rect x="728" y="317" width="1" height="13"/><rect x="726" y="321" width="5" height="6"/><rect x="736" y="313" width="1" height="16"/><rect x="734" y="314" width="5" height="12"/><rect x="735" y="315" width="3" height="10" fill="#fff"/><rect x="744" y="305" width="1" height="13"/><rect x="742" y="310" width="5" height="5"/><rect x="743" y="311" width="3" height="3" fill="#fff"/><rect x="752" y="277" width="1" height="33"/><rect x="750" y="283" width="5" height="27"/><rect x="751" y="284" width="3" height="25" fill="#fff"/><rect x="760" y="251" width="1" height="31"/><rect x="758" y="252" width="5" height="30"/><rect x="759" y="253" width="3" height="28" fill="#fff"/><rect x="768" y="248" width="1" height="13"/><rect x="766" y="250" width="5" height="4"/><rect x="767" y="251" width="3" height="2" fill="#fff"/><rect x="776" y="248" width="1" height="18"/><rect x="774" y="248" width="5" height="18"/><rect x="784" y="243" width="1" height="27"/><rect x="782" y="251" width="5" height="15"/><rect x="783" y="252" width="3" height="13" fill="#fff"/><rect x="792" y="248" width="1" height="15"/><rect x="790" y="251" width="5" height="8"/><rect x="800" y="252" width="1" height="20"/><rect x="798" y="257" width="5" height="1"/><rect x="808" y="250" width="1" height="27"/><rect x="806" y="257" width="5" height="13"/><rect x="816" y="258" width="1" height="19"/><rect x="814" y="261" width="5" height="9"/><rect x="815" y="262" width="3" height="7" fill="#fff"/><rect x="824" y="259" width="1" height="13"/><rect x="822" y="260" width="5" height="10"/><rect x="832" y="256" width="1" height="16"/><rect x="830" y="259" width="5" height="10"/><rect x="831" y="260" width="3" height="8" fill="#fff"/><rect x="840" y="246" width="1" height="15"/><rect x="838" y="252" width="5" height="9"/><rect x="839" y="253" width="3" height="7" fill="#fff"/><rect x="848" y="231" width="1" height="29"/><rect x="846" y="252" width="5" height="1"/><rect x="856" y="234" width="1" height="48"/><rect x="854" y="244" width="5" height="9"/><rect x="855" y="245" width="3" height="7" fill="#fff"/><rect x="864" y="236" width="1" height="16"/><rect x="862" y="242" width="5" height="5"/><rect x="863" y="243" width="3" height="3" fill="#fff"/><rect x="872" y="237" width="1" height="10"/><rect x="870" y="243" width="5" height="1"/><rect x="880" y="227" width="1" height="18"/><rect x="878" y="230" width="5" height="15"/><rect x="879" y="231" width="3" height="13" fill="#fff"/><rect x="888" y="208" width="1" height="25"/><rect x="886" y="220" width="5" height="10"/><rect x="887" y="221" width="3" height="8" fill="#fff"/><rect x="896" y="209" width="1" height="15"/><rect x="894" y="221" width="5" height="1"/><rect x="904" y="210" width="1" height="24"/><rect x="902" y="216" width="5" height="7"/><rect x="903" y="217" width="3" height="5" fill="#fff"/><rect x="912" y="209" width="1" height="20"/><rect x="910" y="216" width="5" height="13"/><rect x="920" y="224" width="1" height="10"/><rect x="918" y="227" width="5" height="1"/><rect x="928" y="222" width="1" height="11"/><rect x="926" y="225" width="5" height="4"/><rect x="927" y="226" width="3" height="2" fill="#fff"/><rect x="936" y="215" width="1" height="11"/><rect x="934" y="216" width="5" height="9"/><rect x="935" y="217" width="3" height="7" fill="#fff"/><rect x="944" y="215" width="1" height="22"/><rect x="942" y="216" width="5" height="4"/><rect x="952" y="215" width="1" height="21"/><rect x="950" y="217" width="5" height="3"/><rect x="951" y="218" width="3" height="1" fill="#fff"/><rect x="960" y="209" width="1" height="25"/><rect x="958" y="216" width="5" height="11"/><rect x="968" y="215" width="1" height="9"/><rect x="966" y="217" width="5" height="7"/><rect x="967" y="218" width="3" height="5" fill="#fff"/><rect x="976" y="195" width="1" height="26"/><rect x="974" y="199" width="5" height="19"/><rect x="975" y="200" width="3" height="17" fill="#fff"/><rect x="984" y="187" width="1" height="14"/><rect x="982" y="198" width="5" height="3"/><rect x="983" y="199" width="3" height="1" fill="#fff"/><rect x="992" y="195" width="1" height="43"/><rect x="990" y="196" width="5" height="32"/><rect x="1000" y="187" width="1" height="57"/><rect x="998" y="196" width="5" height="33"/><rect x="999" y="197" width="3" height="31" fill="#fff"/><rect x="1008" y="191" width="1" height="14"/><rect x="1006" y="191" width="5" height="8"/><rect x="1007" y="192" width="3" height="6" fill="#fff"/><rect x="1016" y="188" width="1" height="14"/><rect x="1014" y="192" width="5" height="1"/><rect x="1024" y="126" width="1" height="72"/><rect x="1022" y="140" width="5" height="52"/><rect x="1023" y="141" width="3" height="50" fill="#fff"/><rect x="1032" y="127" width="1" height="22"/><rect x="1030" y="136" width="5" height="5"/><rect x="1031" y="137" width="3" height="3" fill="#fff"/><rect x="1040" y="78" width="1" height="63"/><rect x="1038" y="82" width="5" height="56"/><rect x="1039" y="83" width="3" height="54" fill="#fff"/><rect x="1048" y="55" width="1" height="42"/><rect x="1046" y="82" width="5" height="1"/><rect x="1056" y="75" width="1" height="33"/><rect x="1054" y="82" width="5" height="5"/><rect x="1064" y="69" width="1" height="22"/><rect x="1062" y="78" width="5" height="9"/><rect x="1063" y="79" width="3" height="7" fill="#fff"/><rect x="1072" y="68" width="1" height="48"/><rect x="1070" y="78" width="5" height="23"/><rect x="1080" y="87" width="1" height="27"/><rect x="1078" y="96" width="5" height="5"/><rect x="1079" y="97" width="3" height="3" fill="#fff"/><rect x="1088" y="95" width="1" height="58"/><rect x="1086" y="97" width="5" height="49"/><rect x="1096" y="110" width="1" height="40"/><rect x="1094" y="130" width="5" height="17"/><rect x="1095" y="131" width="3" height="15" fill="#fff"/><rect x="1104" y="76" width="1" height="58"/><rect x="1102" y="80" width="5" height="51"/><rect x="1103" y="81" width="3" height="49" fill="#fff"/><rect x="1112" y="78" width="1" height="14"/><rect x="1110" y="80" width="5" height="6"/><rect x="1120" y="76" width="1" height="50"/><rect x="1118" y="85" width="5" height="37"/><rect x="1128" y="105" width="1" height="26"/><rect x="1126" y="120" width="5" height="1"/><rect x="1136" y="113" width="1" height="35"/><rect x="1134" y="119" width="5" height="10"/><rect x="1144" y="117" width="1" height="35"/><rect x="1142" y="129" width="5" height="7"/><rect x="1152" y="108" width="1" height="36"/><rect x="1150" y="108" width="5" height="28"/><rect x="1151" y="109" width="3" height="26" fill="#fff"/><rect x="1160" y="108" width="1" height="21"/><rect x="1158" y="108" width="5" height="12"/><rect x="1168" y="94" width="1" height="31"/><rect x="1166" y="119" width="5" height="1"/><rect x="1176" y="108" width="1" height="15"/><rect x="1174" y="118" width="5" height="2"/><rect x="1184" y="110" width="1" height="26"/><rect x="1182" y="117" width="5" height="13"/><rect x="1192" y="111" width="1" height="45"/><rect x="1190" y="128" width="5" height="23"/><rect x="1200" y="140" width="1" height="23"/><rect x="1198" y="151" width="5" height="12"/><rect x="1208" y="146" width="1" height="12"/><rect x="1206" y="153" width="5" height="4"/><rect x="1207" y="154" width="3" height="2" fill="#fff"/><rect x="1216" y="121" width="1" height="42"/><rect x="1214" y="129" width="5" height="24"/><rect x="1215" y="130" width="3" height="22" fill="#fff"/><rect x="1224" y="126" width="1" height="10"/><rect x="1222" y="129" width="5" height="1"/><rect x="1232" y="126" width="1" height="71"/><rect x="1230" y="129" width="5" height="67"/><rect x="1240" y="174" width="1" height="52"/><rect x="1238" y="194" width="5" height="29"/><rect x="1248" y="203" width="1" height="27"/><rect x="1246" y="207" width="5" height="16"/><rect x="1247" y="208" width="3" height="14" fill="#fff"/><rect x="1256" y="195" width="1" height="20"/><rect x="1254" y="199" width="5" height="9"/><rect x="1255" y="200" width="3" height="7" fill="#fff"/><rect x="1264" y="184" width="1" height="30"/><rect x="1262" y="187" width="5" height="13"/><rect x="1263" y="188" width="3" height="11" fill="#fff"/><rect x="1272" y="186" width="1" height="34"/><rect x="1270" y="186" width="5" height="17"/><rect x="1280" y="172" width="1" height="35"/><rect x="1278" y="182" width="5" height="20"/><rect x="1279" y="183" width="3" height="18" fill="#fff"/><rect x="1288" y="145" width="1" height="40"/><rect x="1286" y="173" width="5" height="10"/><rect x="1287" y="174" width="3" height="8" fill="#fff"/><rect x="1296" y="170" width="1" height="23"/><rect x="1294" y="173" width="5" height="19"/><rect x="1304" y="189" width="1" height="12"/><rect x="1302" y="189" width="5" height="3"/><rect x="1312" y="182" width="1" height="24"/><rect x="1310" y="187" width="5" height="5"/><rect x="1311" y="188" width="3" height="3" fill="#fff"/><rect x="1320" y="178" width="1" height="20"/><rect x="1318" y="182" width="5" height="6"/><rect x="1319" y="183" width="3" height="4" fill="#fff"/><rect x="1328" y="173" width="1" height="25"/><rect x="1326" y="182" width="5" height="1"/><rect x="1336" y="174" width="1" height="86"/><rect x="1334" y="182" width="5" height="75"/><rect x="1344" y="250" width="1" height="71"/><rect x="1342" y="256" width="5" height="65"/><rect x="1352" y="280" width="1" height="40"/><rect x="1350" y="281" width="5" height="40"/><rect x="1351" y="282" width="3" height="38" fill="#fff"/><rect x="1360" y="276" width="1" height="29"/><rect x="1358" y="281" width="5" height="18"/><rect x="1368" y="284" width="1" height="33"/><rect x="1366" y="298" width="5" height="19"/><rect x="1376" y="291" width="1" height="26"/><rect x="1374" y="303" width="5" height="14"/><rect x="1375" y="304" width="3" height="12" fill="#fff"/><rect x="1384" y="298" width="1" height="64"/><rect x="1382" y="303" width="5" height="53"/><rect x="1392" y="354" width="1" height="18"/><rect x="1390" y="355" width="5" height="8"/><rect x="1400" y="341" width="1" height="22"/><rect x="1398" y="355" width="5" height="8"/><rect x="1399" y="356" width="3" height="6" fill="#fff"/><rect x="1408" y="347" width="1" height="74"/><rect x="1406" y="356" width="5" height="53"/><rect x="1416" y="389" width="1" height="30"/><rect x="1414" y="400" width="5" height="9"/><rect x="1415" y="401" width="3" height="7" fill="#fff"/><rect x="1424" y="373" width="1" height="34"/><rect x="1422" y="387" width="5" height="14"/><rect x="1423" y="388" width="3" height="12" fill="#fff"/><rect x="1432" y="384" width="1" height="57"/><rect x="1430" y="387" width="5" height="14"/><rect x="1440" y="352" width="1" height="48"/><rect x="1438" y="353" width="5" height="48"/><rect x="1439" y="354" width="3" height="46" fill="#fff"/></g>
<g fill="#c0c0c0"><rect x="0" y="656" width="1" height="41"/><rect x="8" y="656" width="1" height="39"/><rect x="16" y="656" width="1" height="38"/><rect x="24" y="656" width="1" height="34"/><rect x="32" y="656" width="1" height="30"/><rect x="40" y="656" width="1" height="23"/><rect x="48" y="656" width="1" height="16"/><rect x="56" y="656" width="1" height="10"/><rect x="64" y="656" width="1" height="5"/><rect x="72" y="655" width="1" height="2"/><rect x="80" y="652" width="1" height="5"/><rect x="88" y="648" width="1" height="9"/><rect x="96" y="645" width="1" height="12"/><rect x="104" y="645" width="1" height="12"/><rect x="112" y="646" width="1" height="11"/><rect x="120" y="647" width="1" height="10"/><rect x="128" y="644" width="1" height="13"/><rect x="136" y="639" width="1" height="18"/><rect x="144" y="639" width="1" height="18"/><rect x="152" y="638" width="1" height="19"/><rect x="160" y="638" width="1" height="19"/><rect x="168" y="641" width="1" height="16"/><rect x="176" y="644" width="1" height="13"/><rect x="184" y="647" width="1" height="10"/><rect x="192" y="649" width="1" height="8"/><rect x="200" y="651" width="1" height="6"/><rect x="208" y="652" width="1" height="5"/><rect x="216" y="651" width="1" height="6"/><rect x="224" y="648" width="1" height="9"/><rect x="232" y="651" width="1" height="6"/><rect x="240" y="653" width="1" height="4"/><rect x="248" y="654" width="1" height="3"/><rect x="256" y="654" width="1" height="3"/><rect x="264" y="654" width="1" height="3"/><rect x="272" y="652" width="1" height="5"/><rect x="280" y="652" width="1" height="5"/><rect x="288" y="653" width="1" height="4"/><rect x="296" y="653" width="1" height="4"/><rect x="304" y="652" width="1" height="5"/><rect x="312" y="651" width="1" height="6"/><rect x="320" y="651" width="1" height="6"/><rect x="328" y="650" width="1" height="7"/><rect x="336" y="648" width="1" height="9"/><rect x="344" y="646" width="1" height="11"/><rect x="352" y="645" width="1" height="12"/><rect x="360" y="645" width="1" height="12"/><rect x="368" y="644" width="1" height="13"/><rect x="376" y="642" width="1" height="15"/><rect x="384" y="638" width="1" height="19"/><rect x="392" y="634" width="1" height="23"/><rect x="400" y="630" width="1" height="27"/><rect x="408" y="628" width="1" height="29"/><rect x="416" y="626" width="1" height="31"/><rect x="424" y="632" width="1" height="25"/><rect x="432" y="638" width="1" height="19"/><rect x="440" y="643" width="1" height="14"/><rect x="448" y="649" width="1" height="8"/><rect x="456" y="652" width="1" height="5"/><rect x="472" y="656" width="1" height="1"/><rect x="480" y="656" width="1" height="1"/><rect x="488" y="656" width="1" height="5"/><rect x="496" y="656" width="1" height="8"/><rect x="504" y="656" width="1" height="10"/><rect x="512" y="656" width="1" height="9"/><rect x="520" y="656" width="1" height="12"/><rect x="528" y="656" width="1" height="7"/><rect x="536" y="656" width="1" height="7"/><rect x="544" y="656" width="1" height="7"/><rect x="552" y="656" width="1" height="5"/><rect x="560" y="656" width="1" height="4"/><rect x="568" y="653" width="1" height="4"/><rect x="576" y="647" width="1" height="10"/><rect x="584" y="644" width="1" height="13"/><rect x="592" y="640" width="1" height="17"/><rect x="600" y="636" width="1" height="21"/><rect x="608" y="633" width="1" height="24"/><rect x="616" y="629" width="1" height="28"/><rect x="624" y="628" width="1" height="29"/><rect x="632" y="629" width="1" height="28"/><rect x="640" y="629" width="1" height="28"/><rect x="648" y="628" width="1" height="29"/><rect x="656" y="627" width="1" height="30"/><rect x="664" y="625" width="1" height="32"/><rect x="672" y="623" width="1" height="34"/><rect x="680" y="621" width="1" height="36"/><rect x="688" y="623" width="1" height="34"/><rect x="696" y="624" width="1" height="33"/><rect x="704" y="624" width="1" height="33"/><rect x="712" y="625" width="1" height="32"/><rect x="720" y="627" width="1" height="30"/><rect x="728" y="628" width="1" height="29"/><rect x="736" y="629" width="1" height="28"/><rect x="744" y="629" width="1" height="28"/><rect x="752" y="626" width="1" height="31"/><rect x="760" y="620" width="1" height="37"/><rect x="768" y="616" width="1" height="41"/><rect x="776" y="615" width="1" height="42"/><rect x="784" y="613" width="1" height="44"/><rect x="792" y="613" width="1" height="44"/><rect x="800" y="613" width="1" height="44"/><rect x="808" y="615" width="1" height="42"/><rect x="816" y="615" width="1" height="42"/><rect x="824" y="618" width="1" height="39"/><rect x="832" y="620" width="1" height="37"/><rect x="840" y="620" width="1" height="37"/><rect x="848" y="621" width="1" height="36"/><rect x="856" y="621" width="1" height="36"/><rect x="864" y="621" width="1" height="36"/><rect x="872" y="622" width="1" height="35"/><rect x="880" y="621" width="1" height="36"/><rect x="888" y="620" width="1" height="37"/><rect x="896" y="620" width="1" height="37"/><rect x="904" y="619" width="1" height="38"/><rect x="912" y="620" width="1" height="37"/><rect x="920" y="622" width="1" height="35"/><rect x="928" y="623" width="1" height="34"/><rect x="936" y="624" width="1" height="33"/><rect x="944" y="625" width="1" height="32"/><rect x="952" y="626" width="1" height="31"/><rect x="960" y="628" width="1" height="29"/><rect x="968" y="629" width="1" height="28"/><rect x="976" y="627" width="1" height="30"/><rect x="984" y="627" width="1" height="30"/><rect x="992" y="630" width="1" height="27"/><rect x="1000" y="629" width="1" height="28"/><rect x="1008" y="628" width="1" height="29"/><rect x="1016" y="628" width="1" height="29"/><rect x="1024" y="622" width="1" height="35"/><rect x="1032" y="617" width="1" height="40"/><rect x="1040" y="607" width="1" height="50"/><rect x="1048" y="600" width="1" height="57"/><rect x="1056" y="596" width="1" height="61"/><rect x="1064" y="592" width="1" height="65"/><rect x="1072" y="593" width="1" height="64"/><rect x="1080" y="593" width="1" height="64"/><rect x="1088" y="600" width="1" height="57"/><rect x="1096" y="605" width="1" height="52"/><rect x="1104" y="603" width="1" height="54"/><rect x="1112" y="602" width="1" height="55"/><rect x="1120" y="607" width="1" height="50"/><rect x="1128" y="611" width="1" height="46"/><rect x="1136" y="616" width="1" height="41"/><rect x="1144" y="621" width="1" height="36"/><rect x="1152" y="622" width="1" height="35"/><rect x="1160" y="624" width="1" height="33"/><rect x="1168" y="627" width="1" height="30"/><rect x="1176" y="629" width="1" height="28"/><rect x="1184" y="632" width="1" height="25"/><rect x="1192" y="638" width="1" height="19"/><rect x="1200" y="643" width="1" height="14"/><rect x="1208" y="647" width="1" height="10"/><rect x="1216" y="647" width="1" height="10"/><rect x="1224" y="647" width="1" height="10"/><rect x="1232" y="655" width="1" height="2"/><rect x="1240" y="656" width="1" height="9"/><rect x="1248" y="656" width="1" height="14"/><rect x="1256" y="656" width="1" height="18"/><rect x="1264" y="656" width="1" height="19"/><rect x="1272" y="656" width="1" height="20"/><rect x="1280" y="656" width="1" height="20"/><rect x="1288" y="656" width="1" height="18"/><rect x="1296" y="656" width="1" height="18"/><rect x="1304" y="656" width="1" height="18"/><rect x="1312" y="656" width="1" height="18"/><rect x="1320" y="656" width="1" height="18"/><rect x="1328" y="656" width="1" height="16"/><rect x="1336" y="656" width="1" height="23"/><rect x="1344" y="656" width="1" height="36"/><rect x="1352" y="656" width="1" height="42"/><rect x="1360" y="656" width="1" height="48"/><rect x="1368" y="656" width="1" height="54"/><rect x="1376" y="656" width="1" height="58"/><rect x="1384" y="656" width="1" height="64"/><rect x="1392" y="656" width="1" height="70"/><rect x="1400" y="656" width="1" height="74"/><rect x="1408" y="656" width="1" height="82"/><rect x="1416" y="656" width="1" height="86"/><rect x="1424" y="656" width="1" height="87"/><rect x="1432" y="656" width="1" height="88"/><rect x="1440" y="656" width="1" height="82"/></g>
<polyline points="0.0,705.5 11.8,700.1 23.5,696.5 35.3,693.5 47.1,688.8 58.9,683.6 70.6,677.7 82.4,670.6 94.2,663.6 105.9,656.5 117.7,651.1 129.5,648.3 141.3,644.7 153.0,642.4 160.1,641.2 195.4,641.2 200.1,642.4 211.9,643.1 221.3,646.6 235.4,647.6 244.8,650.2 259.0,650.6 270.7,651.3 291.9,651.3 296.6,652.5 306.1,652.3 317.8,651.3 329.6,651.1 341.4,650.2 353.1,649.0 364.9,647.8 376.7,645.9 388.5,643.1 390.0,642.4 397.9,641.2 401.8,640.0 413.5,637.2 420.6,634.9 451.2,634.6 455.9,636.5 465.3,638.4 474.8,643.6 484.2,647.1 493.6,651.3 503.0,655.3 512.4,657.7 519.5,660.5 531.3,661.9 540.7,663.1 561.9,663.1 571.3,661.2 583.1,658.4 592.5,654.9 601.9,650.2 611.3,647.8 618.4,643.1 625.4,640.0 634.8,636.5 644.3,633.0 656.0,630.1 667.8,627.8 681.9,625.9 693.7,624.3 705.5,624.3 712.5,623.6 731.4,623.6 743.1,624.3 750.2,625.4 762.0,625.2 776.1,623.6 780.0,622.4 787.9,621.2 791.8,620.5 803.5,617.7 813.0,615.6 843.6,615.6 848.3,616.7 867.1,617.4 871.8,618.4 883.6,620.0 890.7,620.5 937.7,620.5 942.4,621.4 958.9,621.9 966.0,623.6 980.1,624.7 996.6,625.4 1006.0,627.1 1022.5,627.6 1029.6,625.4 1039.0,623.6 1048.4,620.5 1057.8,616.5 1064.9,612.5 1074.3,607.8 1081.4,603.5 1090.8,600.7 1102.5,598.4 1112.0,597.2 1121.4,597.9 1128.4,600.7 1140.2,603.1 1149.6,607.8 1159.0,610.6 1168.5,613.4 1170.0,614.8 1177.9,617.7 1181.8,620.0 1193.5,623.6 1205.3,629.4 1217.1,633.7 1228.9,638.4 1240.6,644.7 1250.0,649.0 1257.1,654.2 1268.9,659.6 1280.7,664.8 1290.1,667.6 1299.5,672.5 1311.3,674.2 1332.4,674.2 1344.2,676.1 1353.6,680.1 1363.1,681.7 1374.8,688.8 1386.6,697.2 1398.4,706.7 1410.1,715.4 1421.9,722.4 1433.7,729.5 1440.3,733.0" fill="none" stroke="#ff0000" stroke-width="1" stroke-dasharray="3,3"/>
<line x1="0" y1="790.5" x2="1651" y2="790.5" stroke="#c0c0c0" stroke-width="1" stroke-dasharray="3,3"/>
<line x1="0" y1="841.5" x2="1651" y2="841.5" stroke="#c0c0c0" stroke-width="1" stroke-dasharray="3,3"/>
<line x1="0" y1="902.5" x2="1651" y2="902.5" stroke="#c0c0c0" stroke-width="1" stroke-dasharray="3,3"/>
<polyline points="0.0,865.0 8.0,849.0 16.0,851.6 24.0,846.9 32.0,844.5 40.0,836.3 48.0,835.1 56.0,836.3 64.0,833.2 72.0,830.2 80.0,833.7 88.0,830.2 96.0,831.6 104.0,836.0 112.0,839.6 120.0,841.0 128.0,829.2 136.0,822.2 144.0,833.5 152.0,833.5 160.0,834.4 168.0,842.2 176.0,842.2 184.0,845.5 192.0,843.3 200.0,845.5 208.0,840.8 216.0,837.2 224.0,827.3 232.0,846.6 240.0,846.6 248.0,841.5 256.0,839.1 264.0,840.8 272.0,834.4 280.0,839.6 288.0,841.5 296.0,838.4 304.0,836.0 312.0,829.2 320.0,842.6 328.0,831.6 336.0,830.2 344.0,830.2 352.0,828.0 360.0,832.5 368.0,827.8 376.0,825.5 384.0,814.4 392.0,808.5 400.0,809.2 408.0,811.3 416.0,808.0 424.0,844.5 432.0,852.3 440.0,848.1 448.0,856.3 456.0,846.6 464.0,856.3 472.0,846.2 480.0,842.2 488.0,852.5 496.0,852.5 504.0,855.6 512.0,841.5 520.0,854.4 528.0,839.6 536.0,841.5 544.0,841.5 552.0,841.5 560.0,839.6 568.0,821.5 576.0,820.3 584.0,828.5 592.0,822.6 600.0,821.5 608.0,818.4 616.0,814.4 624.0,824.5 632.0,827.3 640.0,828.5 648.0,821.5 656.0,819.1 664.0,814.4 672.0,812.5 680.0,811.3 688.0,824.5 696.0,821.5 704.0,820.3 712.0,820.3 720.0,825.5 728.0,825.5 736.0,819.6 744.0,817.5 752.0,806.6 760.0,797.4 768.0,796.3 776.0,808.5 784.0,804.3 792.0,809.2 800.0,809.2 808.0,818.4 816.0,814.4 824.0,820.3 832.0,817.2 840.0,813.7 848.0,814.4 856.0,810.4 864.0,809.2 872.0,810.4 880.0,804.3 888.0,800.3 896.0,802.1 904.0,799.6 912.0,813.2 920.0,813.2 928.0,811.3 936.0,806.6 944.0,810.4 952.0,809.2 960.0,819.1 968.0,814.4 976.0,804.5 984.0,803.3 992.0,833.2 1000.0,817.2 1008.0,815.6 1016.0,815.1 1024.0,797.4 1032.0,796.0 1040.0,786.8 1048.0,786.6 1056.0,789.7 1064.0,788.5 1072.0,804.3 1080.0,803.3 1088.0,831.3 1096.0,826.6 1104.0,812.5 1112.0,814.4 1120.0,830.2 1128.0,830.2 1136.0,833.9 1144.0,837.5 1152.0,827.8 1160.0,832.5 1168.0,832.5 1176.0,831.6 1184.0,837.2 1192.0,846.2 1200.0,851.4 1208.0,847.4 1216.0,836.3 1224.0,836.3 1232.0,860.8 1240.0,868.1 1248.0,862.2 1256.0,857.9 1264.0,852.5 1272.0,858.4 1280.0,849.0 1288.0,845.5 1296.0,851.4 1304.0,852.5 1312.0,849.2 1320.0,847.4 1328.0,848.1 1336.0,873.2 1344.0,884.3 1352.0,868.5 1360.0,871.4 1368.0,874.9 1376.0,869.2 1384.0,879.1 1392.0,880.8 1400.0,878.4 1408.0,885.5 1416.0,881.0 1424.0,876.3 1432.0,878.7 1440.0,860.8" fill="none" stroke="#1e90ff" stroke-width="1" shape-rendering="geometricPrecision"/>
<rect x="1358" y="335" width="140" height="7" fill="#00ff00"/>
<g shape-rendering="geometricPrecision">
<line x1="1299.5" y1="177.5" x2="1433.9" y2="431.9" stroke="#f00" stroke-width="3.6" stroke-linecap="butt"/><polygon points="1435.3,434.6 1424.4,425.7 1429.8,424.3 1434.1,420.5" fill="#f00"/>
<line x1="1435.0" y1="431.0" x2="1452.3" y2="345.9" stroke="#f00" stroke-width="3.6" stroke-linecap="butt"/><polygon points="1452.9,343.0 1455.7,356.8 1450.6,354.5 1444.9,354.6" fill="#f00"/>
<line x1="1452.9" y1="344.0" x2="1481.3" y2="366.9" stroke="#f00" stroke-width="3" stroke-linecap="butt"/><polygon points="1483.6,368.8 1470.6,365.0 1474.8,361.7 1477.1,356.9" fill="#f00"/>
<line x1="1335.0" y1="674.0" x2="1443.1" y2="745.5" stroke="#f00" stroke-width="3.2" stroke-linecap="butt"/><polygon points="1445.6,747.2 1432.3,744.6 1436.2,741.0 1438.0,736.0" fill="#f00"/>
<line x1="1336.0" y1="874.5" x2="1439.5" y2="881.3" stroke="#f00" stroke-width="3.2" stroke-linecap="butt"/><polygon points="1442.5,881.5 1431.2,885.4 1432.6,880.9 1431.8,876.2" fill="#f00"/>
</g>
<rect x="1039" y="55" width="9" height="1" fill="#f00"/>
<rect x="463" y="486" width="9" height="1" fill="#f00"/>
<rect x="1225" y="336" width="10" height="1" fill="#f00"/>
<rect x="1423" y="439" width="3" height="3" fill="#f00"/><rect x="1424" y="440" width="1" height="1" fill="#fff"/><rect x="1426" y="441" width="6" height="1" fill="#f00"/>
</svg>
<div class="lbl" style="left:977px;top:46px;width:62px;height:19px;">116.336</div>
<div class="lbl" style="left:401px;top:477px;width:62px;height:19px;">113.140</div>
<div class="lbl" style="left:1361px;top:432px;width:62px;height:19px;">113.477</div>
<div class="lbl" style="left:1235px;top:324px;width:74px;height:25px;font-family:'Liberation Sans',sans-serif;font-size:23.3px;line-height:24.6px;"><span style="position:absolute;left:50%;top:0;transform:translateX(-50%) translateX(0px) scaleX(.875);transform-origin:center;">114.253</span></div>
<div class="tk" style="top:49px"></div><div class="ax" style="top:44.5px">116.375</div>
<div class="tk" style="top:82px"></div><div class="ax" style="top:77.5px">116.135</div>
<div class="tk" style="top:115px"></div><div class="ax" style="top:110.5px">115.890</div>
<div class="tk" style="top:148px"></div><div class="ax" style="top:143.5px">115.645</div>
<div class="tk" style="top:181px"></div><div class="ax" style="top:176.5px">115.400</div>
<div class="tk" style="top:214px"></div><div class="ax" style="top:209.5px">115.155</div>
<div class="tk" style="top:247px"></div><div class="ax" style="top:242.5px">114.910</div>
<div class="tk" style="top:280px"></div><div class="ax" style="top:275.5px">114.660</div>
<div class="tk" style="top:313px"></div><div class="ax" style="top:308.5px">114.420</div>
<div class="tk" style="top:346px"></div><div class="ax" style="top:341.5px">114.180</div>
<div class="tk" style="top:379px"></div><div class="ax" style="top:374.5px">113.936</div>
<div class="tk" style="top:412px"></div><div class="ax" style="top:407.5px">113.690</div>
<div class="tk" style="top:445px"></div><div class="ax" style="top:440.5px">113.445</div>
<div class="tk" style="top:478px"></div><div class="ax" style="top:473.5px">113.200</div>
<div class="tk" style="top:511px"></div><div class="ax" style="top:506.5px">112.955</div>
<div class="tk" style="top:544px"></div><div class="ax" style="top:539.5px">112.710</div>
<div class="tk" style="top:577px"></div><div class="ax" style="top:572.5px">112.465</div>
<div class="axb" style="top:275px;background:#ff0000">114.660</div>
<div class="axb" style="top:305px;background:#ff0000">114.438</div>
<div class="axb" style="top:330px;background:#32cd32">114.253</div>
<div class="axb" style="top:347px;background:#000">114.135</div>
<div class="axb" style="top:373px;background:#0000ff">113.936</div>
<div class="axb" style="top:400px;background:#0000ff">113.736</div>
<div class="tk" style="top:584px"></div>
<div class="ax" style="left:1655px;top:584.5px">0.3584</div>
<div class="tk" style="top:656px"></div>
<div class="ax" style="left:1655px;top:651.5px">0.00</div>
<div class="tk" style="top:750px"></div>
<div class="ax" style="left:1655px;top:740.5px">-0.4734</div>
<div class="ax" style="left:1655px;top:757.5px">100</div>
<div class="tk" style="top:790px"></div>
<div class="ax" style="left:1655px;top:785.5px">80</div>
<div class="tk" style="top:841px"></div>
<div class="ax" style="left:1655px;top:836.5px">50</div>
<div class="tk" style="top:902px"></div>
<div class="ax" style="left:1655px;top:897.5px">15</div>
<div class="ax" style="left:1655px;top:916.5px">0</div>
<div class="tl" style="left:0px">Dec 2021</div>
<div class="tt" style="left:56px"></div><div class="tl" style="left:55px">6 Dec 20:00</div>
<div class="tt" style="left:120px"></div><div class="tl" style="left:119px">8 Dec 04:00</div>
<div class="tt" style="left:184px"></div><div class="tl" style="left:183px">9 Dec 12:00</div>
<div class="tt" style="left:248px"></div><div class="tl" style="left:247px">12 Dec 23:00</div>
<div class="tt" style="left:312px"></div><div class="tl" style="left:311px">14 Dec 04:00</div>
<div class="tt" style="left:376px"></div><div class="tl" style="left:375px">15 Dec 12:00</div>
<div class="tt" style="left:440px"></div><div class="tl" style="left:439px">16 Dec 20:00</div>
<div class="tt" style="left:504px"></div><div class="tl" style="left:503px">20 Dec 04:00</div>
<div class="tt" style="left:568px"></div><div class="tl" style="left:567px">21 Dec 12:00</div>
<div class="tt" style="left:632px"></div><div class="tl" style="left:631px">22 Dec 20:00</div>
<div class="tt" style="left:696px"></div><div class="tl" style="left:695px">24 Dec 04:00</div>
<div class="tt" style="left:760px"></div><div class="tl" style="left:759px">27 Dec 12:00</div>
<div class="tt" style="left:824px"></div><div class="tl" style="left:823px">28 Dec 20:00</div>
<div class="tt" style="left:888px"></div><div class="tl" style="left:887px">30 Dec 04:00</div>
<div class="tt" style="left:952px"></div><div class="tl" style="left:951px">31 Dec 12:00</div>
<div class="tt" style="left:1016px"></div><div class="tl" style="left:1015px">3 Jan 20:00</div>
<div class="tt" style="left:1080px"></div><div class="tl" style="left:1079px">5 Jan 04:00</div>
<div class="tt" style="left:1144px"></div><div class="tl" style="left:1143px">6 Jan 12:00</div>
<div class="tt" style="left:1208px"></div><div class="tl" style="left:1207px">9 Jan 23:00</div>
<div class="tt" style="left:1272px"></div><div class="tl" style="left:1271px">11 Jan 04:00</div>
<div class="tt" style="left:1336px"></div><div class="tl" style="left:1335px">12 Jan 12:00</div>
<div class="tt" style="left:1400px"></div><div class="tl" style="left:1399px">13 Jan 20:00</div>
<div class="tl" style="left:7px;top:30px;letter-spacing:.22px">USDJPY-,H4&nbsp; 113.781 114.141 113.718 114.135</div>
<div style="position:absolute;left:0;top:35px;width:0;height:0;border-left:2px solid transparent;border-right:2px solid transparent;border-bottom:3px solid #000;margin-left:-2px"></div>
<div class="tl" style="left:-2px;top:586px;letter-spacing:.12px">MACD(12,26,9) -0.4072 -0.3794</div>
<div class="tl" style="left:-2px;top:758px;">RSI(14) 39.2685</div>
<div id="tp" style="position:absolute;left:0;top:47px;width:214px;height:57px;">
<div style="position:absolute;left:0;top:0;width:47px;height:25px;background:linear-gradient(#5a5af0,#3030d8);border-top:1px solid #1c1cc4;border-right:1px solid #2828cc;box-sizing:border-box;"></div>
<div style="position:absolute;left:163px;top:0;width:51px;height:25px;background:linear-gradient(#5a5af0,#3030d8);border-top:1px solid #1c1cc4;border-left:1px solid #2828cc;box-sizing:border-box;"></div>
<div style="position:absolute;left:0;top:24px;width:43px;height:1px;background:#8080f0;"></div>
<div style="position:absolute;left:166px;top:24px;width:44px;height:1px;background:#8080f0;"></div>
<div style="position:absolute;left:0;top:25px;width:104px;height:32px;background:linear-gradient(#3636de,#0000a8);"></div>
<div style="position:absolute;left:106px;top:25px;width:108px;height:32px;background:linear-gradient(#3636de,#0000a8);"></div>
<div style="position:absolute;left:8px;top:4px;color:#fff;font-size:11px;line-height:15px;letter-spacing:-.4px">SELL</div>
<div style="position:absolute;left:175.5px;top:4px;color:#fff;font-size:11px;line-height:15px;">BUY</div>
<div style="position:absolute;left:49px;top:0px;width:111px;height:22px;background:#fff;border:1px solid #b8b8b8;box-sizing:border-box;"></div>
<div style="position:absolute;left:51px;top:2px;width:19px;height:18px;background:linear-gradient(#f4f4f4,#cfcfcf);border:1px solid #c8c8c8;box-sizing:border-box;"></div>
<div style="position:absolute;left:139px;top:2px;width:19px;height:18px;background:linear-gradient(#f4f4f4,#cfcfcf);border:1px solid #c8c8c8;box-sizing:border-box;"></div>
<div style="position:absolute;left:57px;top:9px;width:0;height:0;border-left:3px solid transparent;border-right:3px solid transparent;border-top:3px solid #5068b0;"></div>
<div style="position:absolute;left:145px;top:8px;width:0;height:0;border-left:3px solid transparent;border-right:3px solid transparent;border-bottom:3px solid #5068b0;"></div>
<div style="position:absolute;left:80px;top:4px;width:55px;text-align:right;color:#000;font-size:12.5px;line-height:15px;">1.00</div>
<div style="position:absolute;left:18.5px;top:42px;color:#fff;font-size:12px;font-weight:bold;line-height:12px;">114</div>
<div style="position:absolute;left:128.5px;top:42px;color:#fff;font-size:12px;font-weight:bold;line-height:12px;">114</div>
<div style="position:absolute;left:42px;top:22.3px;color:#fff;font-size:33px;line-height:36px;letter-spacing:-2px;">13</div>
<div style="position:absolute;left:153px;top:22.3px;color:#fff;font-size:33px;line-height:36px;letter-spacing:-2px;">15</div>
<div style="position:absolute;left:82px;top:26.1px;color:#fff;font-size:12px;font-weight:bold;line-height:12px;">5</div>
<div style="position:absolute;left:192.5px;top:26.1px;color:#fff;font-size:12px;font-weight:bold;line-height:12px;">3</div>
</div>
</body></html>
